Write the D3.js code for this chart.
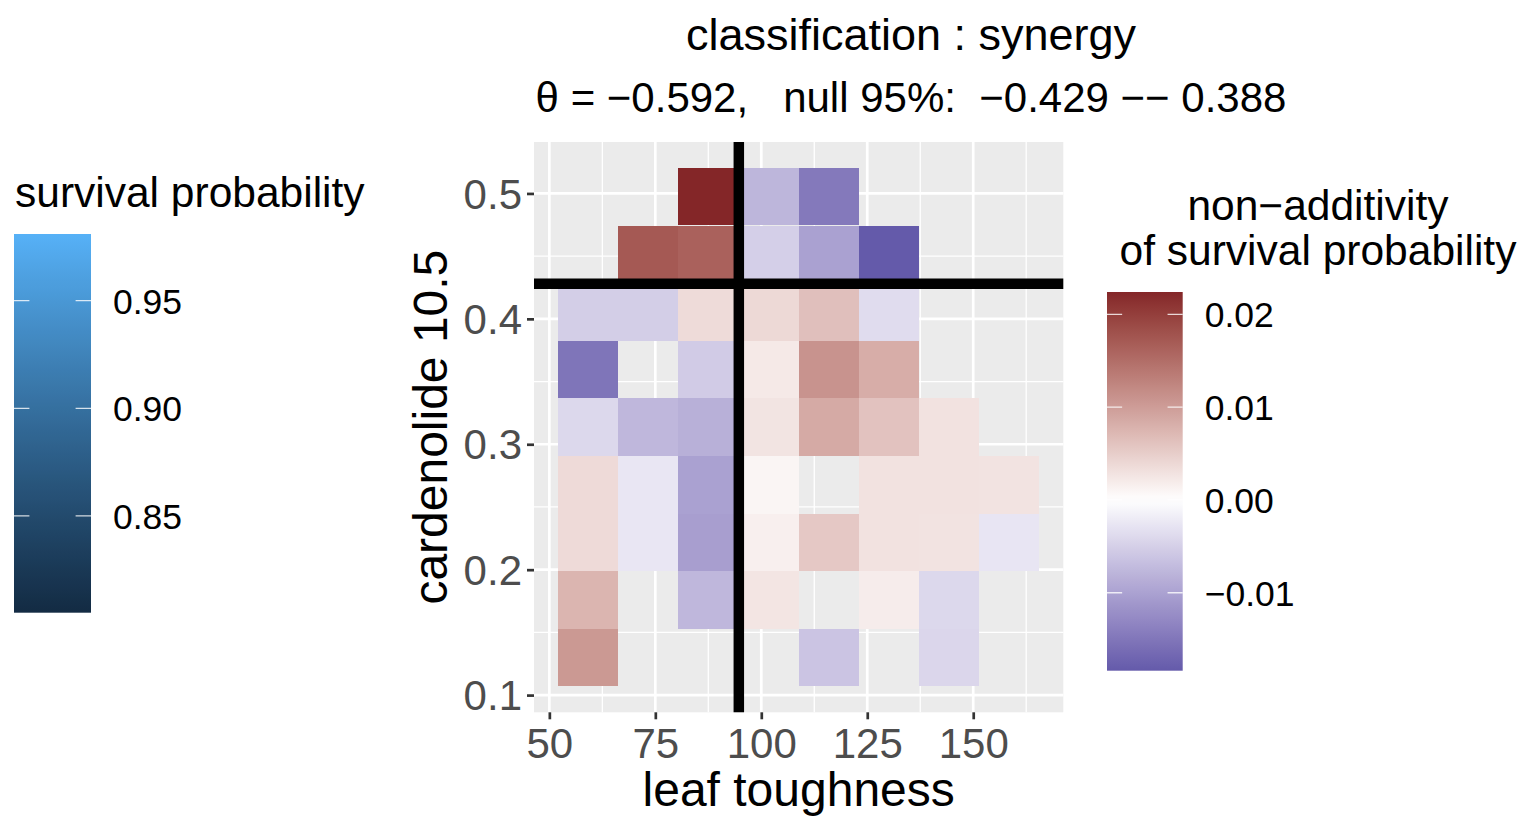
<!DOCTYPE html>
<html lang="en">
<head>
<meta charset="UTF-8">
<title>Non-additivity of survival probability</title>
<script src="https://d3js.org/d3.v7.min.js"></script>
<style>
  body { margin: 0; background: #fff; }
  svg { display: block; font-family: "Liberation Sans", Arial, sans-serif; }
</style>
</head>
<body>
<svg id="chart" width="1530" height="817"></svg>
<script>
// bin centres of the two traits
const toughness = [59.15, 73.34, 87.53, 101.72, 115.91, 130.10, 144.29, 158.48];
const cardenolide = [0.1299, 0.1758, 0.2217, 0.2677, 0.3136, 0.3596, 0.4055, 0.4514, 0.4974];
// non-additivity per cell: one row per cardenolide bin (bottom to top), null = empty
const nonAdd = [
  [0.0104, null, null, null, -0.0062, null, -0.0043, null],
  [0.0075, null, -0.0076, 0.0026, null, 0.0019, -0.0041, null],
  [0.0037, -0.0026, -0.0104, 0.0016, 0.0055, 0.0029, 0.0028, -0.0027],
  [0.0037, -0.0026, -0.0101, 0.0010, null, 0.0029, 0.0029, 0.0028],
  [-0.0041, -0.0076, -0.0084, 0.0027, 0.0086, 0.0061, 0.0029, null],
  [-0.0152, null, -0.0055, 0.0022, 0.0110, 0.0083, null, null],
  [-0.0052, -0.0052, 0.0036, 0.0038, 0.0064, -0.0037, null, null],
  [null, 0.0172, 0.0163, -0.0051, -0.0101, -0.0184, null, null],
  [null, null, 0.0224, -0.0078, -0.0147, null, null, null]
];
const medianToughness = 94.7;
const medianCardenolide = 0.428;

const xTicks = [50, 75, 100, 125, 150];
const yTicks = [0.1, 0.2, 0.3, 0.4, 0.5];
const xMinor = [62.5, 87.5, 112.5, 137.5, 162.5];
const yMinor = [0.15, 0.25, 0.35, 0.45];
const survivalRange = [0.805, 0.981];
const survivalTicks = [0.85, 0.90, 0.95];
const nonAddTicks = [-0.01, 0, 0.01, 0.02];

const titleLines = ["classification : synergy", "\u03b8 = \u22120.592,   null 95%:  \u22120.429 \u2212\u2212 0.388"];

const svg = d3.select("#chart");
const panel = { left: 534, right: 1063.3, top: 142, bottom: 712.3 };

// ggplot style 5% expansion around the tiles
const tw = toughness[1] - toughness[0];
const th = cardenolide[1] - cardenolide[0];
const xLo = toughness[0] - tw / 2, xHi = toughness[toughness.length - 1] + tw / 2;
const yLo = cardenolide[0] - th / 2, yHi = cardenolide[cardenolide.length - 1] + th / 2;
const xPad = (xHi - xLo) * 0.05, yPad = (yHi - yLo) * 0.05;

const x = d3.scaleLinear().domain([xLo - xPad, xHi + xPad]).range([panel.left, panel.right]);
const y = d3.scaleLinear().domain([yLo - yPad, yHi + yPad]).range([panel.bottom, panel.top]);

const cells = [];
nonAdd.forEach((row, i) => row.forEach((v, j) => {
  if (v != null) cells.push({ t: toughness[j], c: cardenolide[i], v });
}));

const ext = d3.extent(cells, d => d.v);
const fill = d3.scaleLinear()
  .domain([ext[0], 0, ext[1]])
  .range(["#645aaa", "#ffffff", "#842628"])
  .interpolate(d3.interpolateLab);

// panel background + grid
svg.append("rect")
  .attr("x", panel.left).attr("y", panel.top)
  .attr("width", panel.right - panel.left).attr("height", panel.bottom - panel.top)
  .attr("fill", "#ebebeb");

const grid = svg.append("g").attr("stroke", "#fff");
grid.selectAll(".xm").data(xMinor).join("line")
  .attr("x1", d => x(d)).attr("x2", d => x(d)).attr("y1", panel.top).attr("y2", panel.bottom)
  .attr("stroke-width", 1.3);
grid.selectAll(".ym").data(yMinor).join("line")
  .attr("y1", d => y(d)).attr("y2", d => y(d)).attr("x1", panel.left).attr("x2", panel.right)
  .attr("stroke-width", 1.3);
grid.selectAll(".xM").data(xTicks).join("line")
  .attr("x1", d => x(d)).attr("x2", d => x(d)).attr("y1", panel.top).attr("y2", panel.bottom)
  .attr("stroke-width", 2.7);
grid.selectAll(".yM").data(yTicks).join("line")
  .attr("y1", d => y(d)).attr("y2", d => y(d)).attr("x1", panel.left).attr("x2", panel.right)
  .attr("stroke-width", 2.7);

// tiles
svg.append("g").selectAll("rect").data(cells).join("rect")
  .attr("x", d => x(d.t - tw / 2))
  .attr("y", d => y(d.c + th / 2))
  .attr("width", x(tw) - x(0))
  .attr("height", y(0) - y(th))
  .attr("fill", d => fill(d.v))
  .attr("shape-rendering", "crispEdges");

// median split lines
svg.append("line")
  .attr("x1", x(medianToughness)).attr("x2", x(medianToughness))
  .attr("y1", panel.top).attr("y2", panel.bottom)
  .attr("stroke", "#000").attr("stroke-width", 10.5);
svg.append("line")
  .attr("x1", panel.left).attr("x2", panel.right)
  .attr("y1", y(medianCardenolide)).attr("y2", y(medianCardenolide))
  .attr("stroke", "#000").attr("stroke-width", 10.5);

// axes
const xAxis = svg.append("g")
  .attr("transform", `translate(0,${panel.bottom})`)
  .call(d3.axisBottom(x).tickValues(xTicks).tickSize(7).tickPadding(9).tickFormat(d3.format("d")));
const yAxis = svg.append("g")
  .attr("transform", `translate(${panel.left},0)`)
  .call(d3.axisLeft(y).tickValues(yTicks).tickSize(7).tickPadding(5).tickFormat(d3.format(".1f")));
[xAxis, yAxis].forEach(g => {
  g.select(".domain").remove();
  g.selectAll(".tick line").attr("stroke", "#333").attr("stroke-width", 2.7);
  g.selectAll(".tick text").attr("fill", "#4d4d4d").style("font-size", "42px")
    .style("font-family", "'Liberation Sans', Arial, sans-serif");
});
xAxis.selectAll(".tick text").attr("dy", "0.71em");
yAxis.selectAll(".tick text").attr("dy", "0.35em");

svg.append("text")
  .attr("x", (panel.left + panel.right) / 2).attr("y", 806)
  .attr("text-anchor", "middle").style("font-size", "48px")
  .text("leaf toughness");
svg.append("text")
  .attr("transform", `translate(447,${(panel.top + panel.bottom) / 2}) rotate(-90)`)
  .attr("text-anchor", "middle").style("font-size", "48px")
  .text("cardenolide 10.5");

// title
svg.append("g").selectAll("text").data(titleLines).join("text")
  .attr("x", 911).attr("y", (d, i) => 50 + i * 62)
  .attr("text-anchor", "middle").style("font-size", (d, i) => i ? "42px" : "45px")
  .style("white-space", "pre")
  .text(d => d);

// colour bar helper
function colourBar(g, scale, domain, ticks, fmt, box, id) {
  const grad = svg.append("defs").append("linearGradient")
    .attr("id", id).attr("x1", 0).attr("x2", 0).attr("y1", 1).attr("y2", 0);
  d3.range(0, 1.0001, 0.02).forEach(t => {
    grad.append("stop").attr("offset", t)
      .attr("stop-color", scale(domain[0] + t * (domain[1] - domain[0])));
  });
  const ys = d3.scaleLinear().domain(domain).range([box.y + box.h, box.y]);
  g.append("rect").attr("x", box.x).attr("y", box.y).attr("width", box.w).attr("height", box.h)
    .attr("fill", `url(#${id})`);
  const tl = box.w / 5;
  g.selectAll(".tk").data(ticks).join("path")
    .attr("d", d => `M${box.x},${ys(d)}h${tl}M${box.x + box.w - tl},${ys(d)}h${tl}`)
    .attr("stroke", "#fff").attr("stroke-opacity", 0.8).attr("stroke-width", 1.3);
  g.selectAll(".lb").data(ticks).join("text")
    .attr("x", box.x + box.w + 22).attr("y", d => ys(d) + 13)
    .style("font-size", "35.5px")
    .text(fmt);
}

const survScale = d3.scaleLinear().domain(survivalRange).range(["#132B43", "#56B1F7"])
  .interpolate(d3.interpolateLab);
const legL = svg.append("g");
legL.append("text").attr("x", 15).attr("y", 207).style("font-size", "42.5px").text("survival probability");
colourBar(legL, survScale, survivalRange, survivalTicks, d3.format(".2f"),
  { x: 14, y: 234, w: 77, h: 378.7 }, "gradSurv");

const legR = svg.append("g");
legR.selectAll("text.tt").data(["non\u2212additivity", "of survival probability"]).join("text")
  .attr("x", 1318).attr("y", (d, i) => 220 + i * 45)
  .attr("text-anchor", "middle").style("font-size", "42.5px").text(d => d);
colourBar(legR, fill, ext, nonAddTicks, d => d3.format(".2f")(d).replace("-", "\u2212"),
  { x: 1107, y: 292, w: 75.7, h: 378.7 }, "gradNon");
</script>
</body>
</html>
